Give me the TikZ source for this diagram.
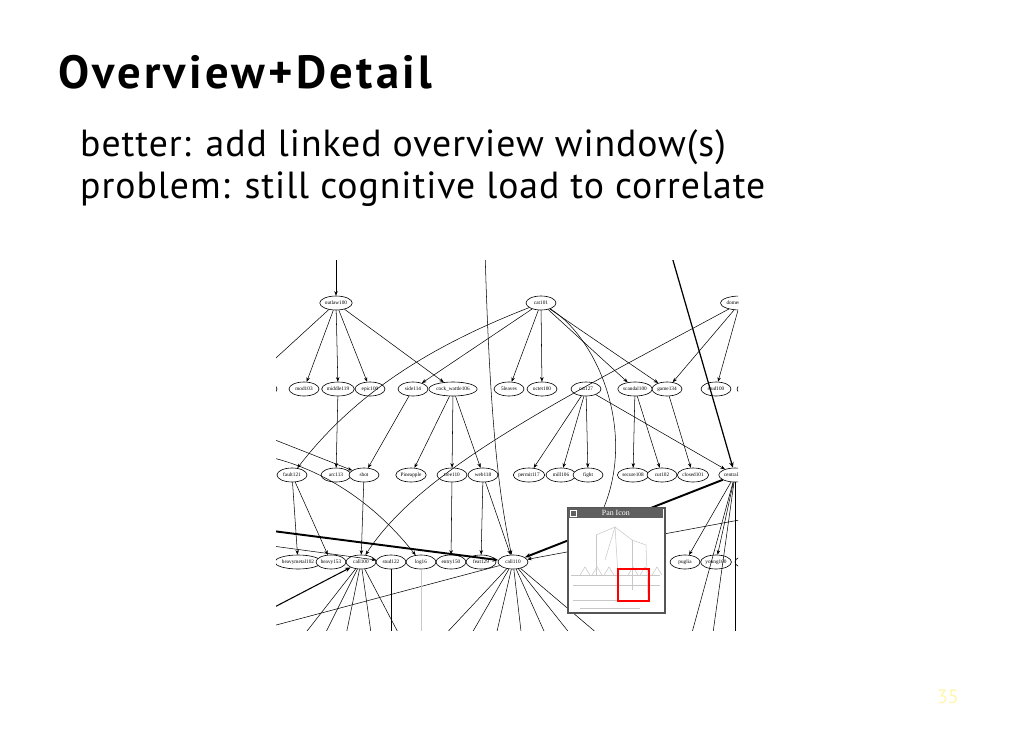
\documentclass[tikz,border=0pt]{standalone}
\usepackage{fontspec}
\setmainfont{PT Sans}
\newfontfamily\graphfont{Liberation Serif}
\usetikzlibrary{shapes.geometric, arrows.meta, positioning}
\definecolor{numyellow}{RGB}{255,246,170}
\definecolor{panbar}{RGB}{95,95,95}
\definecolor{panframe}{RGB}{85,85,85}
\definecolor{sketchgray}{RGB}{200,200,200}
\tikzset{
  gnode/.style={ellipse, draw, line width=0.35pt, fill=white,
                inner xsep=0.2pt, inner ysep=0.3pt,
                minimum width=0.6cm, minimum height=0.28cm,
                font=\graphfont\fontsize{3}{3}\selectfont},
  gedge/.style={-{Stealth[length=2.6pt,width=2pt]}, line width=0.3pt},
  heavyedge/.style={-{Stealth[length=3.2pt,width=2.6pt]}, line width=1.1pt},
  plainedge/.style={line width=0.3pt},
  titletext/.style={anchor=base west,
                    font=\fontsize{26.5}{30}\selectfont\bfseries\addfontfeatures{LetterSpace=7}},
  bodytext/.style={anchor=base west,
                   font=\fontsize{21.5}{24}\selectfont\addfontfeatures{LetterSpace=2.5}}
}

\begin{document}
\begin{tikzpicture}[x=0.02cm, y=-0.02cm]

  % page
  \useasboundingbox[fill=white] (0,0) rectangle (1010,750);

  % slide text
  \node[titletext] (title) at (52,89) {Overview+Detail};
  \node[bodytext] (line1) at (74,156) {better: add linked overview window(s)};
  \node[bodytext] (line2) at (74,198) {problem: still cognitive load to correlate};

  % the graph screenshot
  \begin{scope}
    \clip (276,260) rectangle (738,630);

    % free ends at the border
    \coordinate (inA) at (336,250);
    \coordinate (inB) at (485,250);
    \coordinate (inC) at (670,250);
    \coordinate (lftA) at (265,368);
    \coordinate (lftB) at (265,436);
    \coordinate (lftC) at (265,456);
    \coordinate (lftD) at (265,530);
    \coordinate (lftE) at (265,545);
    \coordinate (lftF) at (265,612);
    \coordinate (lftG) at (265,628);
    \coordinate (rgtA) at (750,518);
    \coordinate (rgtB) at (750,500);
    \coordinate (rgtC) at (750,482);
    \coordinate (panin) at (598,520);

    % row 1
    \node[gnode] (olaw) at (336,303) {outlaw100};
    \node[gnode] (cat) at (541,303) {cat101};
    \node[gnode] (dom) at (740,303) {domestic100};

    % row 2
    \node[gnode] (rowb) at (262,389) {tail102};
    \node[gnode] (mod) at (304,389) {mod103};
    \node[gnode] (mid) at (338,389) {middle119};
    \node[gnode] (epic) at (370,389) {epic100};
    \node[gnode] (side) at (413,389) {side114};
    \node[gnode] (cock) at (453,389) {cock\_wattle106};
    \node[gnode] (leaves) at (509,389) {5leaves};
    \node[gnode] (octet) at (542,389) {octet100};
    \node[gnode] (catb) at (586,389) {cat127};
    \node[gnode] (scan) at (635,389) {scandal100};
    \node[gnode] (game) at (667,389) {game134};
    \node[gnode] (stud) at (716,389) {stud100};
    \node[gnode] (rowz) at (752,389) {line100};

    % row 3
    \node[gnode] (fault) at (292,475) {fault121};
    \node[gnode] (arc) at (336,475) {arc113};
    \node[gnode] (shot) at (364,475) {shot};
    \node[gnode] (pine) at (411,475) {Pineapple};
    \node[gnode] (tree) at (452,475) {tree110};
    \node[gnode] (web) at (483,475) {web118};
    \node[gnode] (permit) at (529,475) {permit117};
    \node[gnode] (mill) at (561,475) {mill106};
    \node[gnode] (fight) at (588,475) {fight};
    \node[gnode] (secure) at (633,475) {secure108};
    \node[gnode] (cut) at (662,475) {cut102};
    \node[gnode] (closed) at (693,475) {closed101};
    \node[gnode] (central) at (735,475) {central100};

    % row 4
    \node[gnode] (hmetal) at (298,562) {heavymetal102};
    \node[gnode] (heavy) at (331,562) {heavy153};
    \node[gnode] (callA) at (361,562) {call100};
    \node[gnode] (studB) at (391,562) {stud122};
    \node[gnode] (log) at (421,562) {log16};
    \node[gnode] (entry) at (451,562) {entry150};
    \node[gnode] (feat) at (481,562) {feat129};
    \node[gnode] (callB) at (513,562) {call110};
    \node[gnode] (puglia) at (685,562) {puglia};
    \node[gnode] (young) at (716,562) {young100};
    \node[gnode] (rowy) at (750,562) {dog100};

    % edges, top part
    \draw[gedge] (inA) -- (olaw);
    \draw[gedge] (inB) .. controls (490,430) and (500,500) .. (callB);
    \draw[heavyedge, line width=0.7pt] (inC) -- (central);
    \draw[plainedge] (olaw) -- (lftA);
    \draw[gedge] (olaw) -- (mod);
    \draw[gedge] (olaw) -- (mid);
    \draw[gedge] (olaw) -- (epic);
    \draw[gedge] (olaw) -- (cock);
    \draw[gedge] (cat) -- (side);
    \draw[gedge] (cat) .. controls (420,350) and (350,400) .. (fault);
    \draw[gedge] (cat) -- (leaves);
    \draw[gedge] (cat) -- (octet);
    \draw[gedge] (cat) -- (scan);
    \draw[gedge] (cat) -- (game);
    \draw[plainedge] (cat) .. controls (600,340) and (640,440) .. (panin);
    \draw[gedge] (dom) -- (game);
    \draw[gedge] (dom) -- (stud);
    \draw[gedge] (dom) .. controls (560,400) and (420,470) .. (callA);

    % edges, middle part
    \draw[gedge] (mid) -- (arc);
    \draw[gedge] (side) -- (shot);
    \draw[gedge] (lftB) -- (shot);
    \draw[gedge] (lftC) .. controls (330,470) and (380,510) .. (log);
    \draw[gedge] (cock) -- (pine);
    \draw[gedge] (cock) -- (tree);
    \draw[gedge] (cock) -- (web);
    \draw[gedge] (catb) -- (permit);
    \draw[gedge] (catb) -- (mill);
    \draw[gedge] (catb) -- (fight);
    \draw[gedge] (catb) -- (central);
    \draw[gedge] (scan) -- (secure);
    \draw[gedge] (scan) -- (cut);
    \draw[gedge] (game) -- (closed);

    % edges, lower part
    \draw[gedge] (fault) -- (hmetal);
    \draw[gedge] (fault) -- (heavy);
    \draw[gedge] (shot) -- (callA);
    \draw[gedge] (tree) -- (entry);
    \draw[gedge] (web) -- (feat);
    \draw[gedge] (web) -- (callB);
    \draw[heavyedge] (lftD) -- (callB);
    \draw[gedge] (lftE) -- (studB);
    \draw[heavyedge] (central) -- (callB);
    \draw[gedge] (rgtA) -- (callB);
    \draw[plainedge] (central) -- (rgtB);
    \draw[plainedge] (central) -- (rgtC);
    \draw[gedge] (central) -- (puglia);
    \draw[gedge] (central) -- (young);
    \draw[heavyedge, line width=0.6pt] (lftF) -- (callA);
    \draw[plainedge] (callB) -- (lftG);

    % fans leaving the bottom
    \foreach \bx in {300,322,345,372,402}
      \draw[plainedge] (callA) -- (\bx,640);
    \foreach \bx in {440,468,495,522,548,575,605}
      \draw[plainedge] (callB) -- (\bx,640);
    \draw[plainedge] (studB) -- (391,640);
    \draw[plainedge, sketchgray] (log) -- (421,640);
    \foreach \bx in {690,712,735}
      \draw[plainedge] (central) -- (\bx,640);
  \end{scope}

  % Pan Icon window
  \node[draw=panframe, line width=1.4pt, fill=white, minimum width=1.94cm,
        minimum height=2.1cm, inner sep=0pt, anchor=north west]
    (panwin) at (567,507) {};
  \node[fill=panbar, minimum width=1.9cm, minimum height=0.2cm, inner sep=0pt,
        anchor=north west, text=white, font=\graphfont\fontsize{4.5}{4.5}\selectfont]
    (panbar) at (568,508) {Pan Icon};
  \node[draw=white, fill=panbar, minimum size=0.12cm, inner sep=0pt,
        right=0.04cm of panbar.west]
    (panbtn) {};

  % faint overview sketch
  \begin{scope}[sketchgray, line width=0.3pt]
    \draw (596,535) -- (615,527) -- (632,540) -- (646,545) -- (648,600);
    \draw (596,535) -- (596,575);
    \draw (615,527) -- (605,560);
    \draw (615,527) -- (618,575);
    \draw (632,540) -- (632,590);
    \draw (573,585) -- (660,585);
    \draw (573,600) -- (650,600);
    \foreach \sx in {580,592,604,628,640,652}
      \draw (\sx,575) -- ++(5,-8) -- ++(5,8);
    \draw (571,575) -- (660,575);
    \draw (580,608) -- (640,608);
  \end{scope}
  \node[draw=red, line width=1.3pt, minimum width=0.62cm, minimum height=0.64cm,
        inner sep=0pt, anchor=north west]
    (panview) at (617,568) {};

  % slide number
  \node[text=numyellow, font=\fontsize{11}{12}\selectfont] (pagenum) at (948,697) {35};

\end{tikzpicture}
\end{document}
